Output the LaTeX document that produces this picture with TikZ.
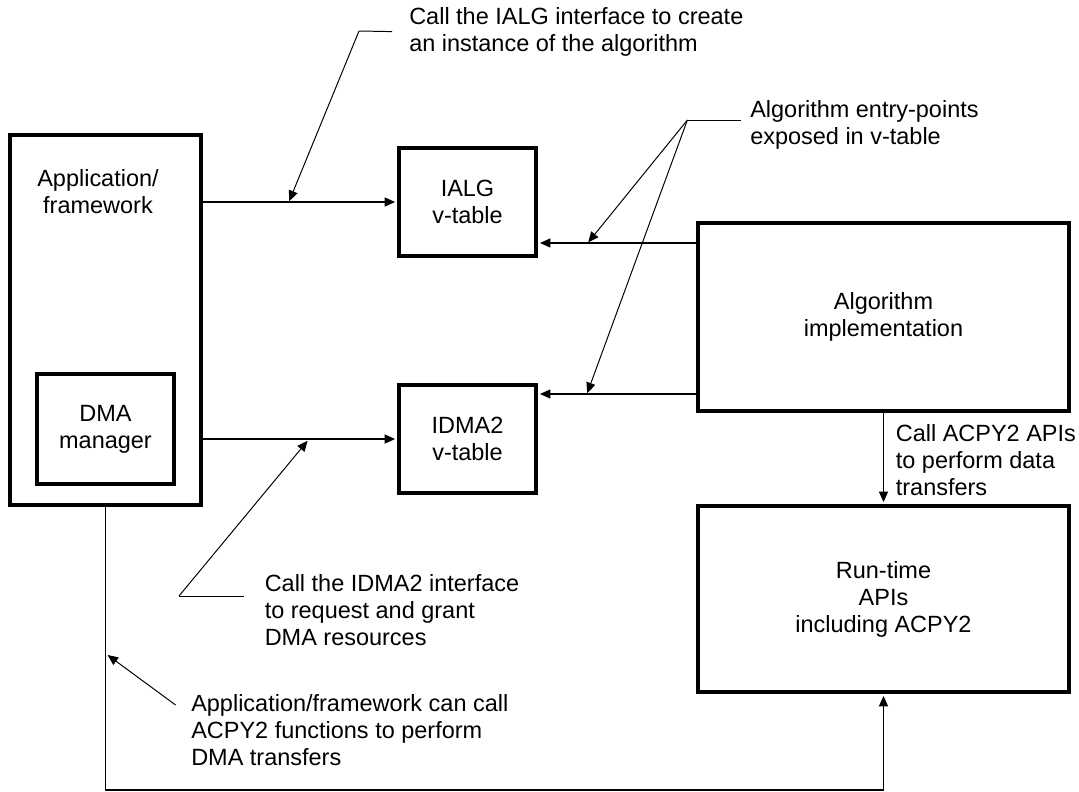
\documentclass[tikz,border=0pt]{standalone}
\usepackage{fontspec}
\setmainfont{Liberation Sans}
\usetikzlibrary{arrows.meta}

\begin{document}
\begin{tikzpicture}[every node/.style={font=\fontsize{16.7}{19.2}\selectfont, align=center},
    box/.style={draw, line width=2.8pt, inner sep=0pt},
    note/.style={align=left, anchor=west, inner sep=0pt},
    conn/.style={line width=0.85pt, shorten >=1.4pt, -{Triangle[length=7.5pt,width=6.5pt]}},
    lead/.style={line width=0.7pt},
    leadtip/.style={line width=0.7pt, -{Triangle[length=7.5pt,width=6.5pt]}}]
    \useasboundingbox (0,0) rectangle (26.975,-19.8);

    \node[box, minimum width=4.775cm, minimum height=9.25cm] (app) at (2.6375,-8.0) {};
    \node (apptext) at (2.45,-4.8) {Application/\\framework};
    \node[box, minimum width=3.425cm, minimum height=2.75cm] (dma) at (2.6375,-10.725) {DMA\\manager};
    \node[box, minimum width=3.425cm, minimum height=2.7cm] (ialg) at (11.6875,-5.05) {IALG\\v-table};
    \node[box, minimum width=3.425cm, minimum height=2.7cm] (idma) at (11.6875,-10.975) {IDMA2\\v-table};
    \node[box, minimum width=9.275cm, minimum height=4.7cm] (alg) at (22.0875,-7.925) {Algorithm\\implementation};
    \node[box, minimum width=9.275cm, minimum height=4.65cm] (rt) at (22.0875,-14.975) {Run-time\\APIs\\including ACPY2};

    \node[note] (ialgnote) at (10.225,-0.79) {Call the IALG interface to create\\an instance of the algorithm};
    \node[note] (epnote) at (18.75,-3.125) {Algorithm entry-points\\exposed in v-table};
    \node[note] (idmanote) at (6.6125,-15.25) {Call the IDMA2 interface\\to request and grant\\DMA resources};
    \node[note] (appnote) at (4.775,-18.25) {Application/framework can call\\ACPY2 functions to perform\\DMA transfers};
    \node[note] (acpynote) at (22.39,-11.5) {Call ACPY2 APIs\\to perform data\\transfers};

    \coordinate (ialgfork) at (8.975,-0.775);
    \coordinate (tip1) at (7.23,-5.03);
    \coordinate (epfork) at (17.185,-3.0);
    \coordinate (tip2) at (14.705,-6.06);
    \coordinate (tip3) at (14.68,-9.83);
    \coordinate (dmafork) at (4.475,-14.9);
    \coordinate (tip4) at (7.69,-11.02);
    \coordinate (appfork) at (4.39,-17.625);
    \coordinate (tip5) at (2.69,-16.375);
    \coordinate (loopc) at (22.0875,-19.75);

    \draw[conn] (ialg.west -| app.east) -- (ialg.west);
    \draw[conn] (idma.west -| app.east) -- (idma.west);
    \draw[conn] (alg.west |- 0,-6.075) -- (ialg.east |- 0,-6.075);
    \draw[conn] (alg.west |- 0,-9.85) -- (idma.east |- 0,-9.85);
    \draw[conn] (alg.south) -- (rt.north);
    \draw[conn] (app.south) |- (loopc) -- (rt.south);

    \draw[lead] ([xshift=-0.425cm]ialgnote.west) -- (ialgfork);
    \draw[leadtip] (ialgfork) -- (tip1);
    \draw[lead] (epfork) -- ++(1.335,0);
    \draw[leadtip] (epfork) -- (tip2);
    \draw[leadtip] (epfork) -- (tip3);
    \draw[lead] (dmafork) -- ++(1.62,0);
    \draw[leadtip] (dmafork) -- (tip4);
    \draw[leadtip] (appfork) -- (tip5);
\end{tikzpicture}
\end{document}
